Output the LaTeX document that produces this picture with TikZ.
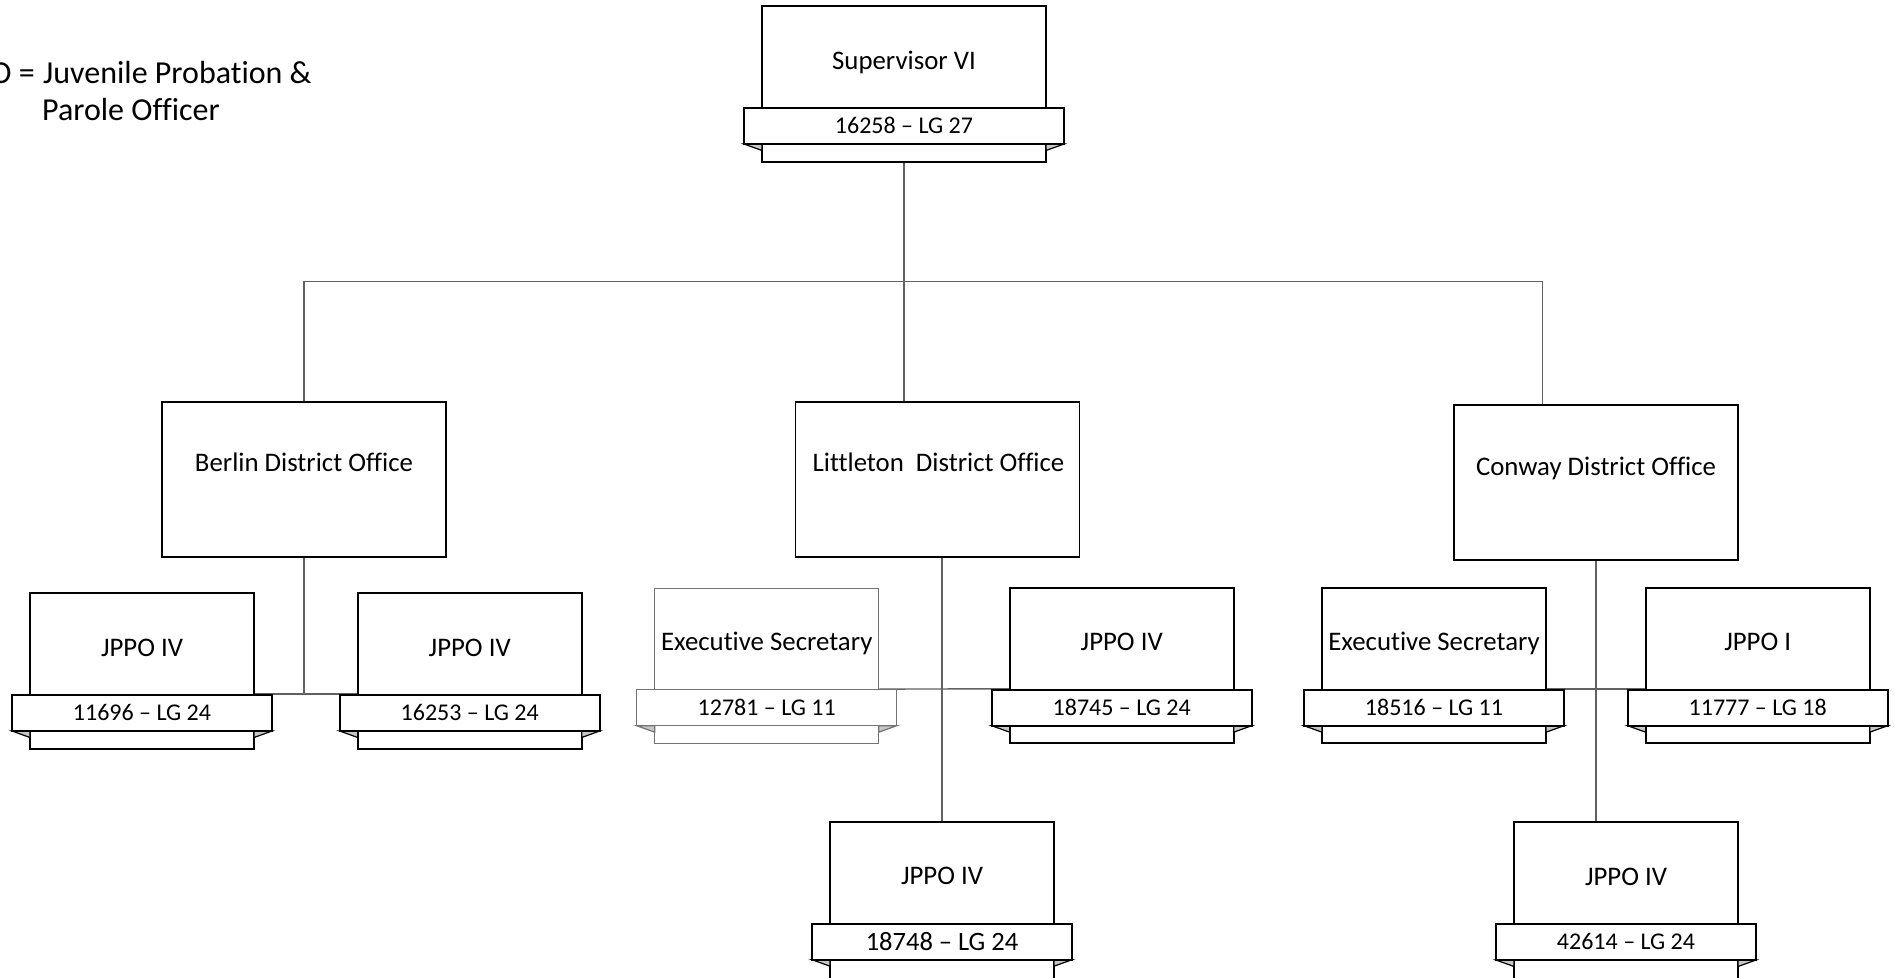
\documentclass[tikz,border=0pt]{standalone}
\usepackage{fontspec}
\setmainfont{Carlito}[Ligatures={NoCommon}]
\usetikzlibrary{backgrounds}
\tikzset{
  conn/.style={draw=black!62, line width=1.4pt},
  dbox/.style={draw=black, line width=1.8pt, fill=white, minimum width=284pt, minimum height=155.5pt, inner sep=0pt},
  jbody/.style={draw=black, line width=1.8pt, fill=white, inner sep=0pt},
  jband/.style={draw=black, line width=1.8pt, fill=white, inner sep=0pt, minimum height=36pt, text height=15.3pt, text depth=0pt, font=\fontsize{24}{28}\selectfont},
  fold/.style={draw=black, line width=1.2pt, fill=black!22, line join=miter},
  ttl/.style={inner sep=0pt, anchor=base, font=\fontsize{26.8}{31}\selectfont},
  lightbox/.style={draw=black!55, line width=1.2pt},
  bigband/.style={font=\fontsize{26.5}{30}\selectfont, text height=16.8pt},
  legend/.style={inner sep=0pt, font=\fontsize{32}{38}\selectfont},
}
% #1 name, #2 cx, #3 top, #4 band top, #5 bottom, #6 half width, #7 title, #8 code, #9 extra style
\newcommand{\jobbox}[9]{%
  \node[jbody,#9, minimum width={2*#6*1pt}, minimum height={(#5-#3)*1pt}] (#1) at (#2,{(#3+#5)/2}) {};
  \draw[fold,#9] (#2-#6-18,#4+36) -- (#2-#6,#4+36) -- (#2-#6,#4+42.5) -- cycle;
  \draw[fold,#9] (#2+#6+18,#4+36) -- (#2+#6,#4+36) -- (#2+#6,#4+42.5) -- cycle;
  \node[jband,#9, minimum width={(2*#6+36)*1pt}] (#1-band) at (#2,#4+18) {#8};
  \node[ttl] (#1-title) at (#2,#4-39) {#7};
}
\begin{document}
\begin{tikzpicture}[x=1pt,y=-1pt]
\useasboundingbox (0,0) rectangle (1895,977);
\clip (0,0) rectangle (1895,977);

% legend
\node[legend, anchor=base west] (leg1) at (43,83) {Juvenile Probation \&};
\node[legend, anchor=base east] (leg0) at (35,83) {JPPO =};
\node[legend, anchor=base west] (leg2) at (42,120) {Parole Officer};

% top
\jobbox{sup}{904}{6}{108}{162}{142}{Supervisor VI}{16258 – LG 27}{}

% district offices
\node[dbox] (ber) at (304,479.4) {};
\node[ttl] (ber-t) at (304,471.7) {Berlin District Office};
\node[dbox] (lit) at (937.5,479.5) {};
\node[ttl] (lit-t) at (938.5,471.7) {Littleton\ \ District Office};
\node[dbox] (con) at (1596,482.5) {};
\node[ttl] (con-t) at (1596,475) {Conway District Office};

% Berlin staff
\jobbox{bl}{142}{593.3}{695}{749.3}{112}{JPPO IV}{11696 – LG 24}{}
\jobbox{br}{469.7}{593.3}{695}{749.3}{112}{JPPO IV}{16253 – LG 24}{}
% Littleton staff
\jobbox{le}{766.7}{588.3}{689.7}{743.3}{112}{Executive Secretary}{12781 – LG 11}{lightbox}
\jobbox{lj}{1121.7}{588.3}{689.7}{743.3}{112}{JPPO IV}{18745 – LG 24}{}
\jobbox{lb}{942}{822}{923.7}{980}{112}{JPPO IV}{18748 – LG 24}{bigband}
% Conway staff
\jobbox{ce}{1434}{587.7}{689.7}{743.3}{112}{Executive Secretary}{18516 – LG 11}{}
\jobbox{cj}{1757.7}{587.7}{689.7}{743.3}{112}{JPPO I}{11777 – LG 18}{}
\jobbox{cb}{1626}{822.3}{924}{980}{112}{JPPO IV}{42614 – LG 24}{}

% connectors
\begin{scope}[on background layer]
\coordinate (cbus) at (1542.4,281.7);
\draw[conn] (sup.south) -- (sup.south |- lit.north);
\draw[conn] (ber.north) |- (cbus) -- (cbus |- con.north);
\draw[conn] (ber.south) -- (ber.south |- bl-band.north);
\draw[conn] (bl.east |- bl-band.north) -- (br.west |- br-band.north);
\draw[conn] (lb.north) -- (lb.north |- lit.south);
\draw[conn] (le.east |- le-band.north) -- (lj.west |- lj-band.north);
\draw[conn] (cb.north -| con.south) -- (con.south);
\draw[conn] (ce.east |- ce-band.north) -- (cj.west |- cj-band.north);
\end{scope}
\end{tikzpicture}
\end{document}
